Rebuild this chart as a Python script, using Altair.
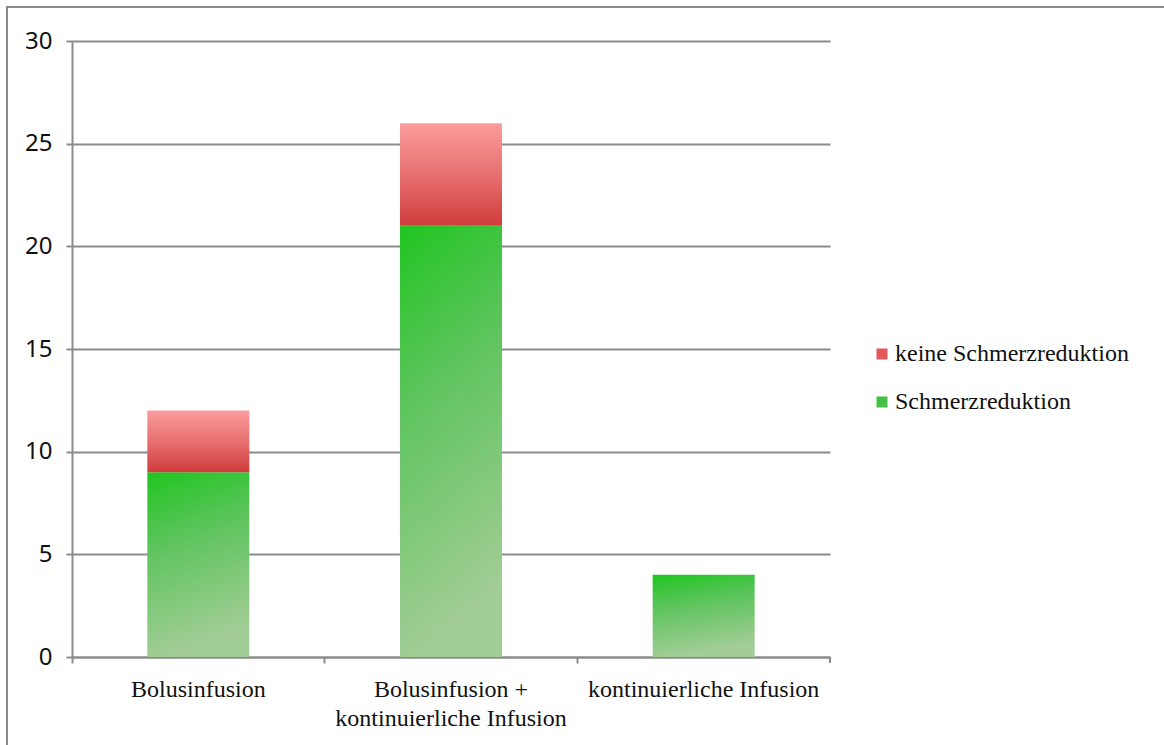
import altair as alt
import pandas as pd

categories = ["Bolusinfusion", "Bolusinfusion +|kontinuierliche Infusion", "kontinuierliche Infusion"]
reduction = [9, 21, 4]          # Schmerzreduktion
no_reduction = [3, 5, 0]        # keine Schmerzreduktion
series_names = ["keine Schmerzreduktion", "Schmerzreduktion"]
y_ticks = [0, 5, 10, 15, 20, 25, 30]

rows = []
for c, g, r in zip(categories, reduction, no_reduction):
    rows.append({"cat": c, "series": "Schmerzreduktion", "start": 0, "end": g})
    if r > 0:
        rows.append({"cat": c, "series": "keine Schmerzreduktion", "start": g, "end": g + r})
df = pd.DataFrame(rows)

W, H = 758, 616
PAD_L, PAD_T = 72, 41
GRID = "#8c8c8c"

x_enc = alt.X("cat:N", sort=categories, title=None,
              scale=alt.Scale(paddingInner=0, paddingOuter=0),
              axis=alt.Axis(labelExpr="split(datum.label, '|')", labelAngle=0,
                            labelFont="Liberation Serif", labelFontSize=24,
                            labelColor="#111111", labelLineHeight=29,
                            labelPadding=14, labelBaseline="top", labelLimit=0,
                            bandPosition=0, tickSize=6, tickColor=GRID, tickWidth=2,
                            domainColor=GRID, domainWidth=2, grid=False))
y_enc = alt.Y("start:Q", title=None,
              scale=alt.Scale(domain=[0, 30], nice=False),
              axis=alt.Axis(values=y_ticks, labelFont="Noto Sans", labelFontSize=24,
                            labelColor="#111111", labelPadding=14,
                            tickSize=6, tickColor=GRID, tickWidth=2,
                            domainColor=GRID, domainWidth=2,
                            grid=True, gridColor=GRID, gridWidth=2))

green_grad = alt.Gradient(gradient="linear", x1=0, y1=0, x2=0.2, y2=1,
                          stops=[alt.GradientStop(color="#20c520", offset=0),
                                 alt.GradientStop(color="#5cc45c", offset=0.4),
                                 alt.GradientStop(color="#a3cd96", offset=1)])
red_grad = alt.Gradient(gradient="linear", x1=0, y1=0, x2=0, y2=1,
                        stops=[alt.GradientStop(color="#fb9c9c", offset=0),
                               alt.GradientStop(color="#e87070", offset=0.5),
                               alt.GradientStop(color="#d03c3c", offset=1)])

base = alt.Chart(df)

green = base.transform_filter(alt.datum.series == "Schmerzreduktion").mark_bar(
    fill=green_grad, width=102).encode(x=x_enc, y=y_enc, y2="end:Q")
red = base.transform_filter(alt.datum.series == "keine Schmerzreduktion").mark_bar(
    fill=red_grad, width=102).encode(x=x_enc, y=y_enc, y2="end:Q")

legend_layer = base.mark_square(opacity=0).encode(
    x=x_enc, y=y_enc,
    color=alt.Color("series:N",
                    scale=alt.Scale(domain=series_names, range=["#e05a5a", "#45c045"]),
                    legend=alt.Legend(title=None, orient="none", legendX=798, legendY=301,
                                      symbolType="square", symbolSize=121,
                                      symbolOpacity=1, symbolStrokeWidth=0,
                                      labelFont="Liberation Serif", labelFontSize=24,
                                      labelColor="#111111", labelOffset=1, labelLimit=0,
                                      rowPadding=24, padding=0)))

one = pd.DataFrame({"k": [0]})
frame_top = alt.Chart(one).mark_rule(color="#8a8a8a", strokeWidth=2).encode(
    x=alt.value(-PAD_L + 6), x2=alt.value(1164 - PAD_L), y=alt.value(-PAD_T + 7))
frame_left = alt.Chart(one).mark_rule(color="#8a8a8a", strokeWidth=2).encode(
    x=alt.value(-PAD_L + 7), y=alt.value(-PAD_T + 6), y2=alt.value(745 - PAD_T))
last_tick = alt.Chart(one).mark_rule(color=GRID, strokeWidth=2).encode(
    x=alt.value(W), y=alt.value(H), y2=alt.value(H + 6))

chart = alt.layer(green, red, legend_layer, frame_top, frame_left, last_tick).properties(
    width=W, height=H,
    autosize=alt.AutoSizeParams(type="none"),
    padding={"left": PAD_L, "top": PAD_T, "right": 1164 - PAD_L - W, "bottom": 745 - PAD_T - H},
    background="white",
).configure_view(stroke=None).configure_legend(labelFont="Liberation Serif", labelFontSize=24)

chart.save("out.html", embed_options={"renderer": "svg", "actions": False})
